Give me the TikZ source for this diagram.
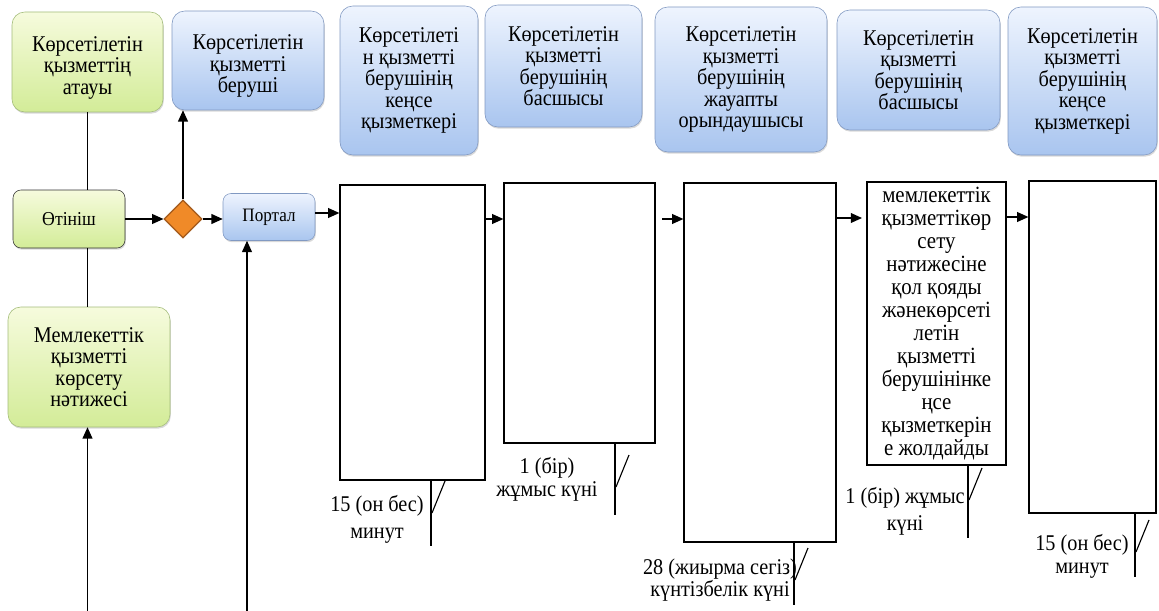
\documentclass[tikz,border=0pt]{standalone}
\usepackage{fontspec}
\setmainfont{Liberation Serif}[FakeStretch=0.9]
\usetikzlibrary{arrows.meta,shapes.geometric,shadows}

\definecolor{grtop}{HTML}{F6FBDD}
\definecolor{grbot}{HTML}{D3EC98}
\definecolor{grline}{HTML}{A3BC7A}
\definecolor{bltop}{HTML}{EEF4FE}
\definecolor{blbot}{HTML}{A9C5EF}
\definecolor{blline}{HTML}{8199C2}
\definecolor{orfill}{HTML}{F08A28}
\definecolor{orline}{HTML}{A35A1C}

\tikzset{
    sz/.style 2 args={minimum width=#1*0.025cm,minimum height=#2*0.025cm},
    rbox/.style={rounded corners=0.32cm,align=center,inner sep=1pt,
        font=\fontsize{16}{15.3}\selectfont,
        drop shadow={shadow xshift=0.6pt,shadow yshift=-1.2pt,opacity=0.3}},
    greenbox/.style={rbox,draw=grline,top color=grtop,bottom color=grbot},
    bluebox/.style={rbox,draw=blline,top color=bltop,bottom color=blbot},
    stepbox/.style={draw,line width=0.9pt,inner sep=1pt,align=center,
        font=\fontsize{16.5}{16.4}\selectfont},
    arr/.style={-{Triangle[length=8pt,width=7pt]},line width=0.9pt},
    lbl/.style={align=center,inner sep=0pt,font=\fontsize{16}{#1}\selectfont}
}

\begin{document}
\begin{tikzpicture}[x=0.025cm,y=-0.025cm]
    \useasboundingbox (0,0) rectangle (1159,611);

    % top row
    \node[greenbox,sz={151}{100}] (atau) at (87.5,62) {\rule{0pt}{19pt}Көрсетілетін\\қызметтің\\атауы};
    \node[bluebox,sz={152}{99}] (beru) at (248,60.5) {\rule{0pt}{19pt}Көрсетілетін\\қызметті\\беруші};
    \node[bluebox,sz={138}{149}] (kense1) at (409,80.5) {Көрсетілеті\\н қызметті\\берушінің\\кеңсе\\қызметкері};
    \node[bluebox,sz={157}{122}] (basshy1) at (563.5,66) {Көрсетілетін\\қызметті\\берушінің\\басшысы};
    \node[bluebox,sz={172}{145}] (oryn) at (741,79.5) {Көрсетілетін\\қызметті\\берушінің\\жауапты\\орындаушысы};
    \node[bluebox,sz={163}{120}] (basshy2) at (918.5,70) {Көрсетілетін\\қызметті\\берушінің\\басшысы};
    \node[bluebox,sz={149}{148}] (kense2) at (1082.5,81) {Көрсетілетін\\қызметті\\берушінің\\кеңсе\\қызметкері};

    % left column
    \node[greenbox,draw=black!80,rounded corners=0.2cm,sz={112}{58},font=\fontsize{14}{14}\selectfont] (otinish) at (69,219) {Өтініш};
    \node[greenbox,sz={162}{120}] (natije) at (89,367) {Мемлекеттік\\қызметті\\көрсету\\нәтижесі};
    \node[diamond,aspect=1,draw=orline,fill=orfill,line width=0.8pt,sz={38}{38},inner sep=0pt] (romb) at (183,219) {};
    \node[bluebox,rounded corners=0.2cm,sz={92}{47},font=\fontsize{13.5}{14}\selectfont] (portal) at (269,217) {Портал};

    % steps
    \node[stepbox,sz={145}{295}] (b1) at (412.5,332.5) {};
    \node[stepbox,sz={151}{260}] (b2) at (579.5,313) {};
    \node[stepbox,sz={152}{359}] (b3) at (760,362.5) {};
    \node[stepbox,sz={139}{283}] (b4) at (936.5,323.5) {мемлекеттік\\қызметтікөр\\сету\\нәтижесіне\\қол қояды\\жәнекөрсеті\\летін\\қызметті\\берушінінке\\ңсе\\қызметкерін\\е жолдайды};
    \node[stepbox,sz={127}{332}] (b5) at (1092.5,347) {};

    % connectors
    \draw[line width=0.9pt] (atau.south) -- (atau.south |- otinish.north);
    \draw[line width=0.9pt] (otinish.south -| atau.south) -- (natije.north -| atau.south);
    \draw[arr] (otinish) -- (romb);
    \draw[arr] (romb.north) -- (romb.north |- beru.south);
    \draw[arr] (romb) -- (romb -| portal.west);
    \coordinate (a1) at (315,213);
    \draw[arr] (a1) -- (a1 -| b1.west);
    \draw[arr] (b1.east |- romb) -- (b2.west |- romb);
    \coordinate (a3) at (662,219);
    \draw[arr] (a3) -- (a3 -| b3.west);
    \coordinate (a4) at (862,218);
    \draw[arr] (a4 -| b3.east) -- (a4);
    \coordinate (a5) at (1007,217);
    \draw[arr] (a5) -- (a5 -| b5.west);
    \coordinate (in1) at (87.5,611);
    \draw[arr] (in1) -- (natije.south -| in1);
    \coordinate (in2) at (247,611);
    \draw[arr] (in2) -- (in2 |- portal.south);

    % time callouts
    \foreach \b/\x/\e/\s in {b1/431/546/513, b2/615/515/487, b3/794/605/580, b4/968/538/500, b5/1135/577/552}{
        \draw[line width=0.8pt] (\b.south -| \x,0) -- (\x,\e);
        \draw[line width=0.8pt] (\x+1,\s) -- (\x+14,\s-32);
    }
    \node[lbl=19.2pt] (t1) at (377,519.5) {15 (он бес)\\минут};
    \node[lbl=16.4pt] (t2) at (547,479.5) {1 (бір)\\жұмыс күні};
    \node[lbl=14pt] (t3) at (720,580) {28 (жиырма сегіз)\\күнтізбелік күні};
    \node[lbl=19.2pt] (t4) at (905,511.5) {1 (бір) жұмыс\\күні};
    \node[lbl=16.5pt] (t5) at (1082,556) {15 (он бес)\\минут};
\end{tikzpicture}
\end{document}
